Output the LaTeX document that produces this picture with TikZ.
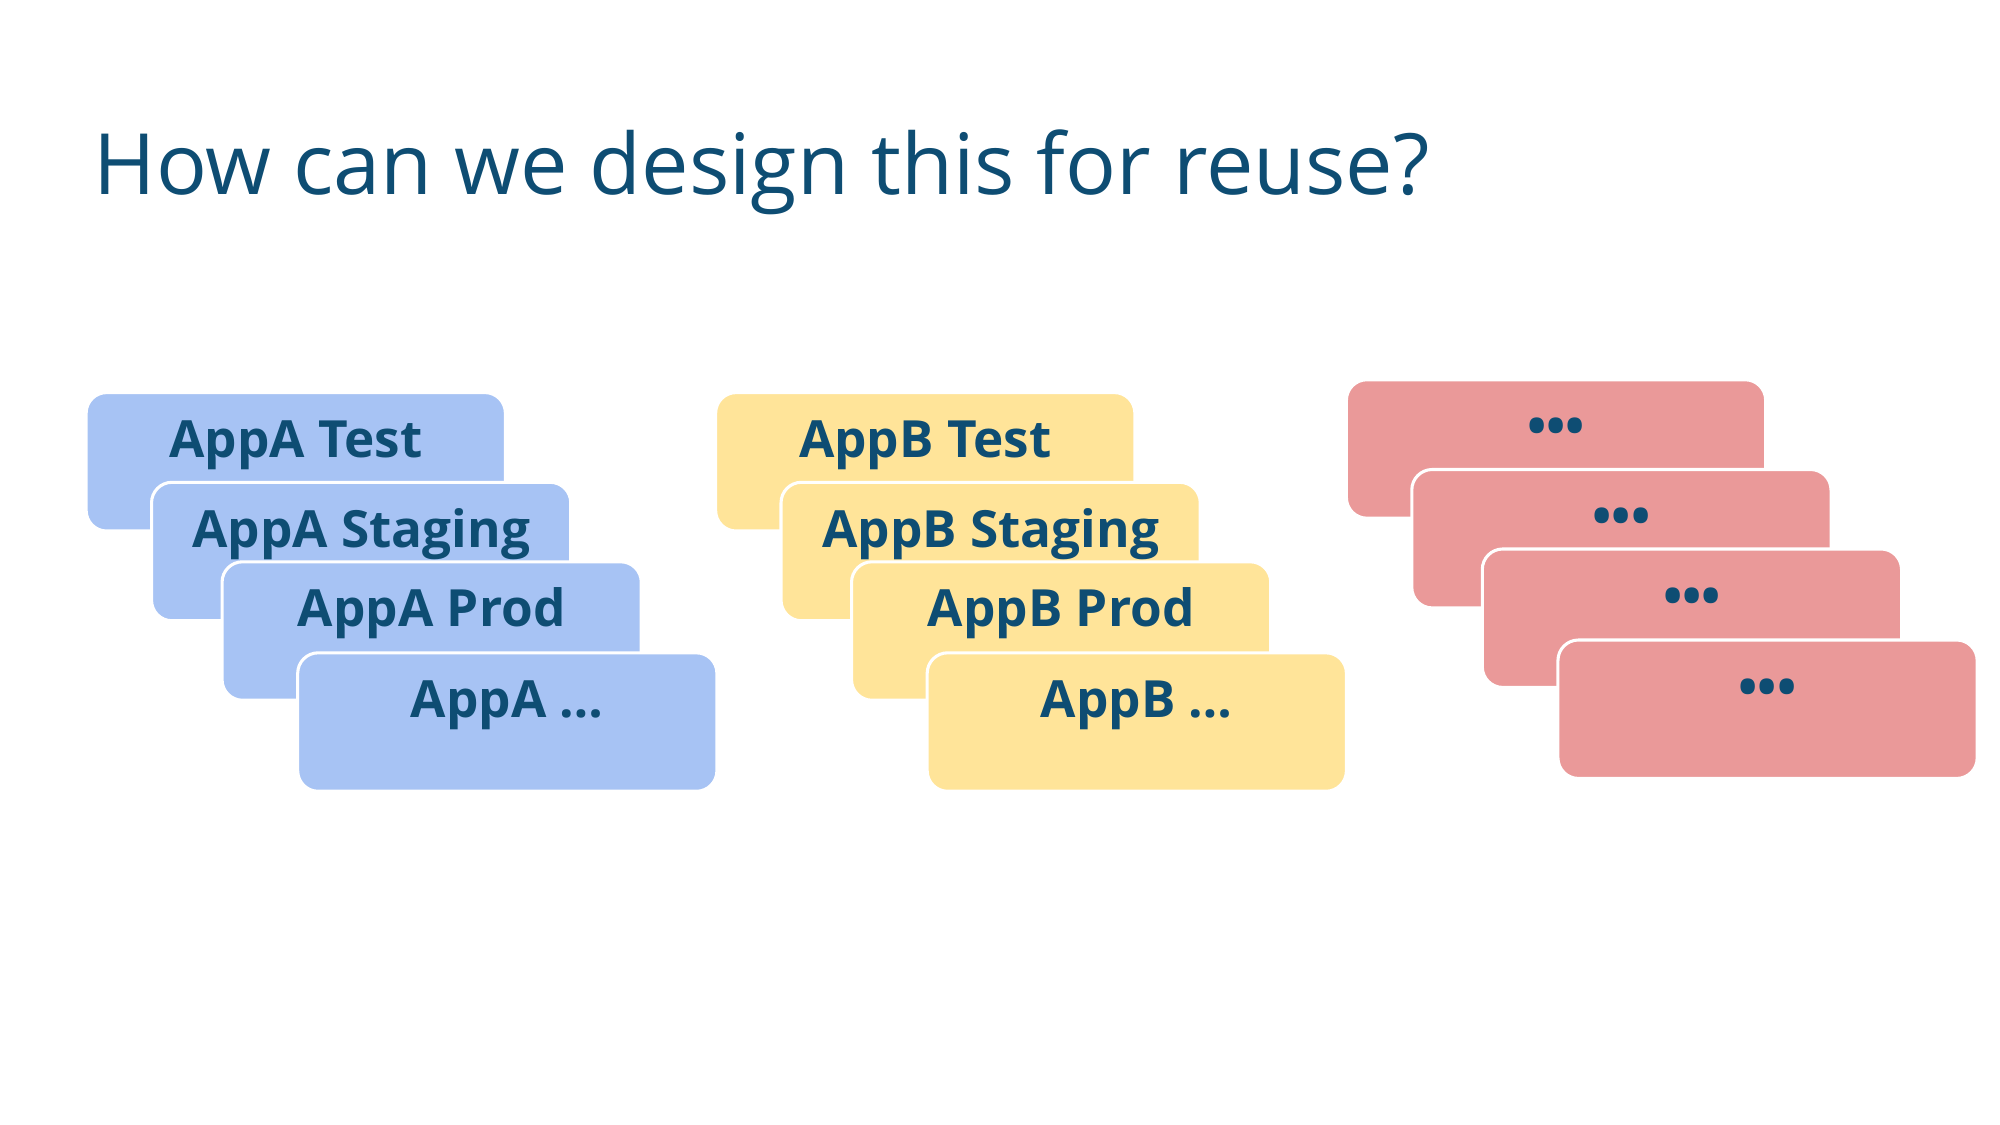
\documentclass[tikz,border=0pt]{standalone}
\usepackage{fontspec}
\setmainfont{Open Sans}
\definecolor{tx}{HTML}{0E4D73}
\definecolor{ba}{HTML}{A7C3F4}
\definecolor{yb}{HTML}{FFE499}
\definecolor{rc}{HTML}{EA9999}
\begin{document}
\begin{tikzpicture}[x=0.5pt,y=-0.5pt,
 card/.style={draw=white,line width=1.2pt,rounded corners=8pt,minimum width=163.5pt,minimum height=54pt,anchor=north west,inner sep=0pt},
 lab/.style={font=\bfseries\fontsize{20}{24}\selectfont,text=tx,anchor=base}]
\useasboundingbox (0,0) rectangle (1560,877.5);
\node[anchor=base west,font=\fontsize{33}{40}\selectfont,text=tx] (title) at (66,152) {How can we design this for reuse?};
\foreach \n/\x/\y/\t/\c in {
 a1/66/305/AppA Test/ba, a2/117/375/AppA Staging/ba, a3/172/437/AppA Prod/ba, a4/231/508/AppA \ldots/ba,
 b1/557/305/AppB Test/yb, b2/608/375/AppB Staging/yb, b3/663/437/AppB Prod/yb, b4/722/508/AppB \ldots/yb,
 r1/1049/295/\textbf{\textbullet\textbullet\textbullet}/rc, r2/1100/365/\textbf{\textbullet\textbullet\textbullet}/rc, r3/1155/427/\textbf{\textbullet\textbullet\textbullet}/rc, r4/1214/498/\textbf{\textbullet\textbullet\textbullet}/rc}{
 \node[card,fill=\c] (\n) at (\x,\y) {};
 \node[lab] (\n t) at ([yshift=-26pt]\n.north) {\t};
}
\end{tikzpicture}
\end{document}
